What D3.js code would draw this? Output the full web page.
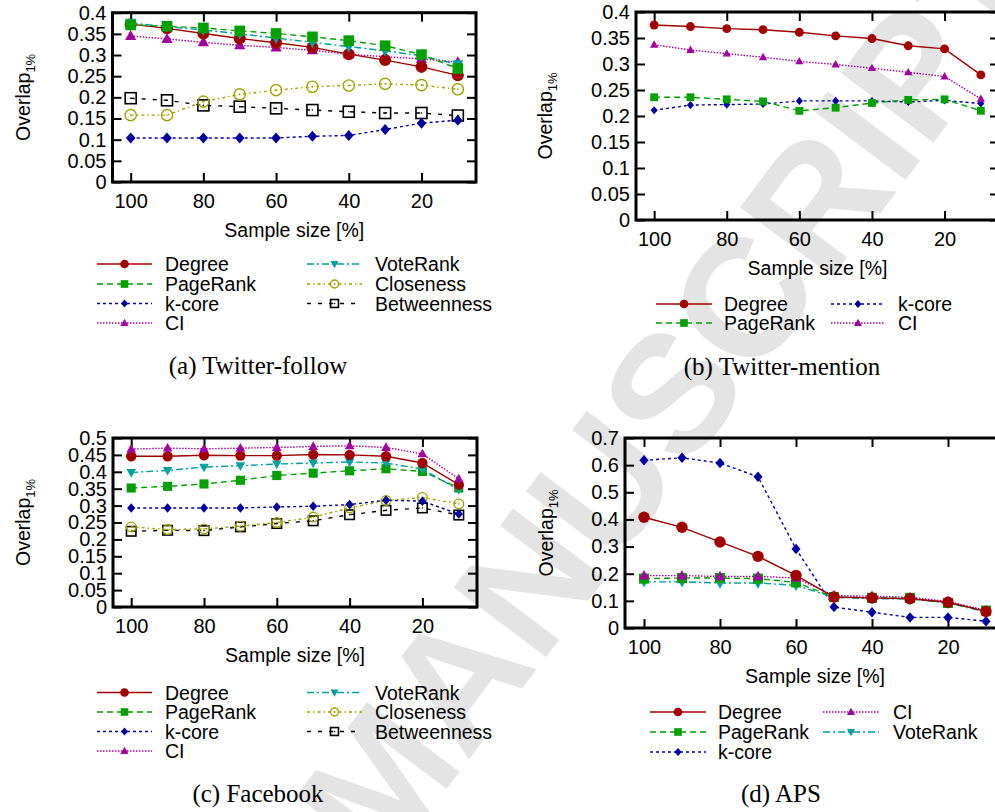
<!DOCTYPE html>
<html>
<head>
<meta charset="utf-8">
<script src="https://cdn.jsdelivr.net/npm/d3@7"></script>
<style>
  body { margin: 0; background: #fff; }
  svg text { font-family: "Liberation Sans", Arial, Helvetica, sans-serif; fill: #000; }
</style>
</head>
<body>
<svg id="fig" width="995" height="812"></svg>
<script>
// ---------- Data ----------
const SAMPLE = [100, 90, 80, 70, 60, 50, 40, 30, 20, 10];
const X_TICKS = [100, 80, 60, 40, 20];
const Y_TICKS_04 = [0, 0.05, 0.1, 0.15, 0.2, 0.25, 0.3, 0.35, 0.4];
const Y_TICKS_05 = [0, 0.05, 0.1, 0.15, 0.2, 0.25, 0.3, 0.35, 0.4, 0.45, 0.5];
const Y_TICKS_07 = [0, 0.1, 0.2, 0.3, 0.4, 0.5, 0.6, 0.7];

// (a) Twitter-follow
const followDegree      = [0.373, 0.363, 0.351, 0.339, 0.329, 0.318, 0.302, 0.288, 0.272, 0.252];
const followPageRank    = [0.371, 0.368, 0.364, 0.357, 0.351, 0.343, 0.334, 0.322, 0.301, 0.268];
const followKcore       = [0.104, 0.104, 0.104, 0.104, 0.104, 0.108, 0.110, 0.124, 0.139, 0.146];
const followCI          = [0.345, 0.338, 0.330, 0.323, 0.318, 0.311, 0.302, 0.296, 0.291, 0.283];
const followVoteRank    = [0.376, 0.367, 0.359, 0.350, 0.340, 0.330, 0.320, 0.310, 0.298, 0.278];
const followCloseness   = [0.158, 0.158, 0.190, 0.207, 0.217, 0.225, 0.228, 0.232, 0.229, 0.219];
const followBetweenness = [0.198, 0.193, 0.181, 0.178, 0.174, 0.170, 0.166, 0.163, 0.163, 0.157];

// (b) Twitter-mention
const mentionDegree   = [0.375, 0.372, 0.368, 0.366, 0.361, 0.354, 0.349, 0.335, 0.329, 0.279];
const mentionPageRank = [0.236, 0.236, 0.232, 0.228, 0.210, 0.216, 0.225, 0.231, 0.232, 0.210];
const mentionKcore    = [0.211, 0.221, 0.222, 0.223, 0.229, 0.229, 0.229, 0.227, 0.230, 0.224];
const mentionCI       = [0.337, 0.327, 0.320, 0.313, 0.305, 0.299, 0.292, 0.284, 0.276, 0.233];

// (c) Facebook
const fbDegree      = [0.446, 0.446, 0.449, 0.448, 0.448, 0.451, 0.450, 0.446, 0.426, 0.362];
const fbPageRank    = [0.352, 0.357, 0.364, 0.375, 0.389, 0.396, 0.403, 0.409, 0.401, 0.352];
const fbKcore       = [0.293, 0.293, 0.293, 0.293, 0.296, 0.298, 0.303, 0.316, 0.313, 0.275];
const fbCI          = [0.467, 0.470, 0.468, 0.470, 0.472, 0.475, 0.477, 0.472, 0.453, 0.379];
const fbVoteRank    = [0.398, 0.404, 0.414, 0.418, 0.423, 0.426, 0.429, 0.426, 0.408, 0.347];
const fbCloseness   = [0.237, 0.229, 0.231, 0.239, 0.250, 0.266, 0.293, 0.315, 0.324, 0.305];
const fbBetweenness = [0.224, 0.227, 0.226, 0.237, 0.247, 0.255, 0.273, 0.286, 0.293, 0.272];

// (d) APS
const apsDegree   = [0.408, 0.371, 0.317, 0.264, 0.194, 0.114, 0.111, 0.108, 0.095, 0.061];
const apsPageRank = [0.182, 0.184, 0.184, 0.182, 0.168, 0.114, 0.111, 0.111, 0.092, 0.064];
const apsKcore    = [0.618, 0.627, 0.608, 0.557, 0.291, 0.077, 0.058, 0.039, 0.039, 0.025];
const apsCI       = [0.193, 0.193, 0.190, 0.190, 0.184, 0.119, 0.117, 0.113, 0.098, 0.065];
const apsVoteRank = [0.170, 0.170, 0.166, 0.166, 0.157, 0.113, 0.108, 0.107, 0.092, 0.059];

// ---------- Styles (gnuplot-like) ----------
const STYLE = {
  "Degree":      { color: "#a00000", dash: null,           marker: "circle"  },
  "PageRank":    { color: "#00a000", dash: "6,4",          marker: "square"  },
  "k-core":      { color: "#0000a0", dash: "3,3",          marker: "diamond" },
  "CI":          { color: "#a000a0", dash: "1.5,1.5",      marker: "triUp"   },
  "VoteRank":    { color: "#00a0a0", dash: "7,3,2,3",      marker: "triDown" },
  "Closeness":   { color: "#a0a000", dash: "3,3,1.5,3",    marker: "ocircle" },
  "Betweenness": { color: "#000000", dash: "4,7",          marker: "osquare" }
};

const svg = d3.select("#fig");

// ---------- Watermark ----------
svg.append("text")
  .attr("transform", "translate(672,392) rotate(-53)")
  .attr("text-anchor", "middle")
  .attr("dy", "0.35em")
  .style("font-size", "168px")
  .style("font-weight", "bold")
  .style("fill", "#e4e4e4")
  .text("MANUSCRIPT");

// ---------- Marker helper ----------
function drawMarker(g, type, color, cx, cy, k) {
  if (type === "circle") {
    g.append("circle").attr("cx", cx).attr("cy", cy).attr("r", 6 * k).attr("fill", color);
  } else if (type === "square") {
    const h = 5.3 * k;
    g.append("rect").attr("x", cx - h).attr("y", cy - h).attr("width", 2 * h).attr("height", 2 * h).attr("fill", color);
  } else if (type === "diamond") {
    g.append("path").attr("fill", color)
      .attr("d", `M${cx},${cy - 5.5 * k}L${cx + 4.8 * k},${cy}L${cx},${cy + 5.5 * k}L${cx - 4.8 * k},${cy}Z`);
  } else if (type === "triUp") {
    g.append("path").attr("fill", color)
      .attr("d", `M${cx},${cy - 6 * k}L${cx + 5.6 * k},${cy + 4 * k}L${cx - 5.6 * k},${cy + 4 * k}Z`);
  } else if (type === "triDown") {
    g.append("path").attr("fill", color)
      .attr("d", `M${cx},${cy + 6 * k}L${cx + 5.6 * k},${cy - 4 * k}L${cx - 5.6 * k},${cy - 4 * k}Z`);
  } else if (type === "ocircle") {
    g.append("circle").attr("cx", cx).attr("cy", cy).attr("r", 5.6 * k)
      .attr("fill", "none").attr("stroke", color).attr("stroke-width", 1.4);
    g.append("circle").attr("cx", cx).attr("cy", cy).attr("r", 0.8).attr("fill", color);
  } else if (type === "osquare") {
    const h = 5.5 * k;
    g.append("rect").attr("x", cx - h).attr("y", cy - h).attr("width", 2 * h).attr("height", 2 * h)
      .attr("fill", "none").attr("stroke", color).attr("stroke-width", 1.6);
    g.append("circle").attr("cx", cx).attr("cy", cy).attr("r", 0.8).attr("fill", color);
  }
}

// ---------- Panels ----------
const PANELS = [
  {
    left: 112.5, right: 476, top: 12.7, bottom: 182, yMax: 0.4, yTicks: Y_TICKS_04, ms: 1,
    ylabX: 30, caption: "(a) Twitter-follow", capX: 258, capY: 374,
    series: [
      ["Betweenness", followBetweenness], ["Closeness", followCloseness], ["k-core", followKcore],
      ["CI", followCI], ["Degree", followDegree], ["VoteRank", followVoteRank], ["PageRank", followPageRank]
    ],
    legend: { cols: [[97, 152, 165], [307, 362, 375]], rows: [264, 284, 303.5, 323],
      items: [["Degree", 0, 0], ["PageRank", 0, 1], ["k-core", 0, 2], ["CI", 0, 3],
              ["VoteRank", 1, 0], ["Closeness", 1, 1], ["Betweenness", 1, 2]] }
  },
  {
    left: 636, right: 999, top: 12, bottom: 220, yMax: 0.4, yTicks: Y_TICKS_04, ms: 0.74,
    ylabX: 552, caption: "(b) Twitter-mention", capX: 782, capY: 375,
    series: [
      ["k-core", mentionKcore], ["PageRank", mentionPageRank], ["CI", mentionCI], ["Degree", mentionDegree]
    ],
    legend: { cols: [[656, 712, 724], [831, 885, 898]], rows: [304, 323],
      items: [["Degree", 0, 0], ["PageRank", 0, 1], ["k-core", 1, 0], ["CI", 1, 1]] }
  },
  {
    left: 113, right: 477, top: 438, bottom: 607, yMax: 0.5, yTicks: Y_TICKS_05, ms: 0.86,
    ylabX: 30, caption: "(c) Facebook", capX: 258, capY: 802,
    series: [
      ["Betweenness", fbBetweenness], ["Closeness", fbCloseness], ["k-core", fbKcore],
      ["PageRank", fbPageRank], ["VoteRank", fbVoteRank], ["Degree", fbDegree], ["CI", fbCI]
    ],
    legend: { cols: [[97, 152, 165], [307, 362, 375]], rows: [692.5, 712, 731.5, 751],
      items: [["Degree", 0, 0], ["PageRank", 0, 1], ["k-core", 0, 2], ["CI", 0, 3],
              ["VoteRank", 1, 0], ["Closeness", 1, 1], ["Betweenness", 1, 2]] }
  },
  {
    left: 625, right: 1005, top: 438, bottom: 628, yMax: 0.7, yTicks: Y_TICKS_07, ms: 0.95,
    ylabX: 553, caption: "(d) APS", capX: 781, capY: 802,
    series: [
      ["k-core", apsKcore], ["VoteRank", apsVoteRank], ["PageRank", apsPageRank], ["CI", apsCI], ["Degree", apsDegree]
    ],
    legend: { cols: [[650, 706, 718], [823, 879, 893]], rows: [712, 732, 752],
      items: [["Degree", 0, 0], ["PageRank", 0, 1], ["k-core", 0, 2], ["CI", 1, 0], ["VoteRank", 1, 1]] }
  }
];

const fmtY = v => (v === 0 ? "0" : String(+v.toFixed(2)));

function drawPanel(p) {
  const g = svg.append("g");
  const x = d3.scaleLinear().domain([105, 5]).range([p.left, p.right]);
  const y = d3.scaleLinear().domain([0, p.yMax]).range([p.bottom, p.top]);
  const w = p.right - p.left, h = p.bottom - p.top;

  // ---- axes (ticks inward, mirrored on all sides) ----
  const axL = g.append("g").attr("transform", `translate(${p.left},0)`)
    .call(d3.axisLeft(y).tickValues(p.yTicks).tickSize(-9).tickPadding(6).tickFormat(fmtY));
  const axR = g.append("g").attr("transform", `translate(${p.right},0)`)
    .call(d3.axisRight(y).tickValues(p.yTicks).tickSize(-9).tickFormat(""));
  const axB = g.append("g").attr("transform", `translate(0,${p.bottom})`)
    .call(d3.axisBottom(x).tickValues(X_TICKS).tickSize(-9).tickPadding(12).tickFormat(d3.format("d")));
  const axT = g.append("g").attr("transform", `translate(0,${p.top})`)
    .call(d3.axisTop(x).tickValues(X_TICKS).tickSize(-9).tickFormat(""));
  [axL, axR, axB, axT].forEach(a => {
    a.select(".domain").remove();
    a.selectAll(".tick line").attr("stroke", "#000").attr("stroke-width", 2);
    a.selectAll("text").style("font-size", "20px").attr("fill", "#000");
  });

  // ---- series ----
  p.series.forEach(([name, vals]) => {
    const st = STYLE[name];
    const pts = SAMPLE.map((s, i) => [s, vals[i]]);
    g.append("path")
      .attr("d", d3.line().x(d => x(d[0])).y(d => y(d[1]))(pts))
      .attr("fill", "none")
      .attr("stroke", st.color)
      .attr("stroke-width", 1.4)
      .attr("stroke-dasharray", st.dash);
    pts.forEach(d => drawMarker(g, st.marker, st.color, x(d[0]), y(d[1]), p.ms));
  });

  // ---- frame ----
  g.append("rect")
    .attr("x", p.left).attr("y", p.top).attr("width", w).attr("height", h)
    .attr("fill", "none").attr("stroke", "#000").attr("stroke-width", 3);

  // ---- axis titles ----
  const yl = g.append("text")
    .attr("transform", `translate(${p.ylabX},${(p.top + p.bottom) / 2}) rotate(-90)`)
    .attr("text-anchor", "middle")
    .style("font-size", "19.5px");
  yl.append("tspan").text("Overlap");
  yl.append("tspan").attr("dy", 5).style("font-size", "13px").text("1%");

  g.append("text")
    .attr("x", (p.left + p.right) / 2)
    .attr("y", p.bottom + 55)
    .attr("text-anchor", "middle")
    .style("font-size", "19.5px")
    .text("Sample size [%]");

  // ---- legend ----
  p.legend.items.forEach(([name, c, r]) => {
    const st = STYLE[name];
    const [x0, x1, tx] = p.legend.cols[c];
    const cy = p.legend.rows[r];
    g.append("line")
      .attr("x1", x0).attr("x2", x1).attr("y1", cy).attr("y2", cy)
      .attr("stroke", st.color).attr("stroke-width", 1.4)
      .attr("stroke-dasharray", st.dash);
    drawMarker(g, st.marker, st.color, (x0 + x1) / 2, cy, 0.72);
    g.append("text")
      .attr("x", tx).attr("y", cy).attr("dy", "0.36em")
      .style("font-size", "19.5px")
      .text(name);
  });

  // ---- caption ----
  g.append("text")
    .attr("x", p.capX).attr("y", p.capY)
    .attr("text-anchor", "middle")
    .style("font-family", "'Liberation Serif', 'Times New Roman', serif")
    .style("font-size", "25px")
    .text(p.caption);
}

PANELS.forEach(drawPanel);
</script>
</body>
</html>
